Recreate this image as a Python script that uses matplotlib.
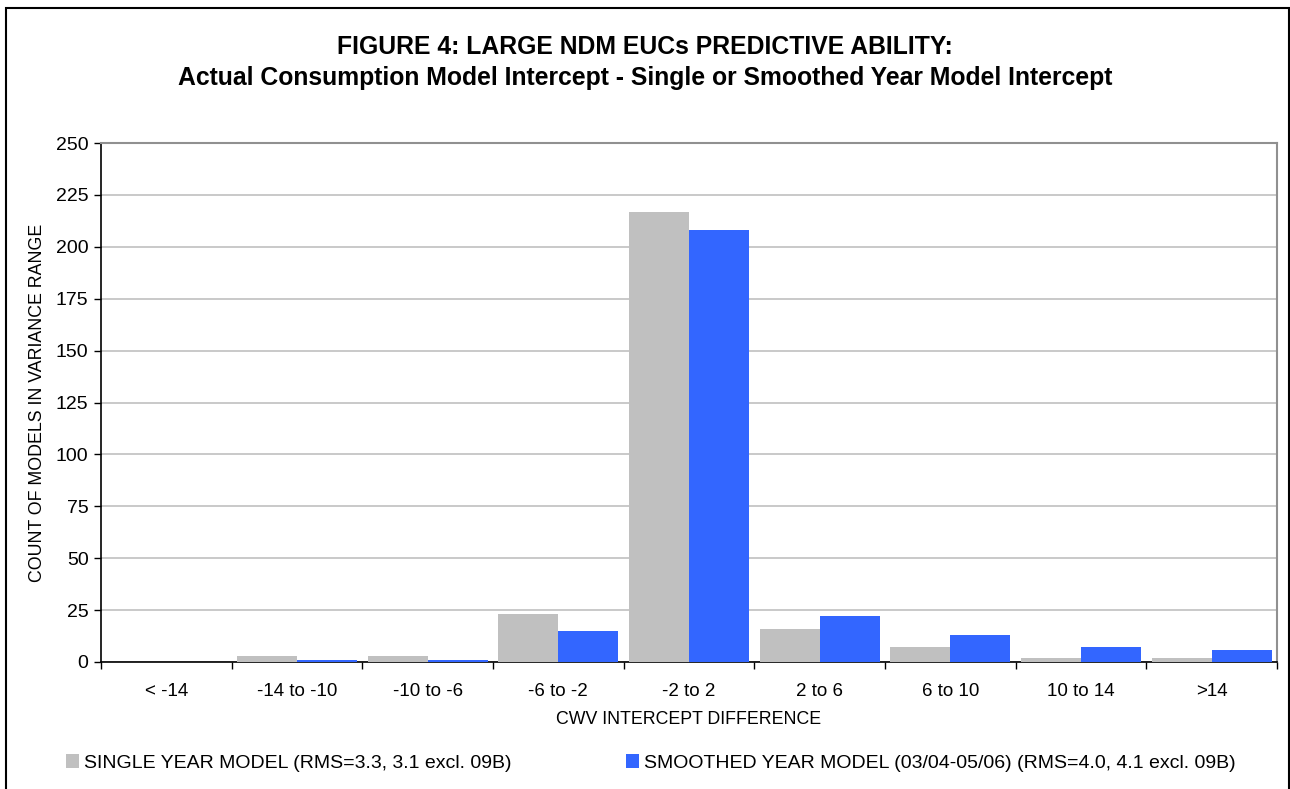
import matplotlib
matplotlib.use("Agg")
import matplotlib.pyplot as plt
from matplotlib.patches import Rectangle, Patch
import numpy as np

plt.rcParams['font.family'] = ['Liberation Sans', 'DejaVu Sans']

categories = ["< -14", "-14 to -10", "-10 to -6", "-6 to -2", "-2 to 2",
              "2 to 6", "6 to 10", "10 to 14", ">14"]
single_year = [0, 3, 3, 23, 217, 16, 7, 2, 2]
smoothed_year = [0, 1, 1, 15, 208, 22, 13, 7, 6]
series_labels = ["SINGLE YEAR MODEL (RMS=3.3, 3.1 excl. 09B)",
                 "SMOOTHED YEAR MODEL (03/04-05/06) (RMS=4.0, 4.1 excl. 09B)"]
y_ticks = [0, 25, 50, 75, 100, 125, 150, 175, 200, 225, 250]

W, H = 1290, 789
fig = plt.figure(figsize=(W / 100, H / 100), dpi=100)

# outer chart frame
fig.patches.append(Rectangle((6 / W, -0.05), (1289 - 6) / W, 1.05 - 8 / H,
                             transform=fig.transFigure, fill=False,
                             edgecolor='black', linewidth=1.5))

ax = fig.add_axes([101 / W, 1 - 662 / H, (1277 - 101) / W, (662 - 143) / H])

x = np.arange(len(categories))
bw = 0.46
ax.bar(x, single_year, width=-bw, align='edge', color='#C0C0C0', zorder=3)
ax.bar(x, smoothed_year, width=bw, align='edge', color='#3366FF', zorder=3)

ax.set_xlim(-0.5, len(categories) - 0.5)
ax.set_ylim(0, 250)
ax.set_yticks(y_ticks)
ax.yaxis.grid(True, color='#C0C0C0', linewidth=1.2, zorder=0)
ax.set_axisbelow(True)

ax.set_xticks(x)
ax.set_xticklabels(categories)
ax.set_xticks(np.arange(-0.5, len(categories)), minor=True)
ax.tick_params(axis='x', which='major', length=0, pad=15, labelsize=13.5)
ax.tick_params(axis='x', which='minor', length=5, width=1, color='black')
ax.tick_params(axis='y', length=5, width=1, labelsize=14, pad=4)

for side in ('left', 'bottom'):
    ax.spines[side].set_color('black')
    ax.spines[side].set_linewidth(1.2)
for side in ('top', 'right'):
    ax.spines[side].set_color('#909090')
    ax.spines[side].set_linewidth(1.5)

ax.set_xlabel("CWV INTERCEPT DIFFERENCE", fontsize=12.8)
ax.set_ylabel("COUNT OF MODELS IN VARIANCE RANGE", fontsize=12.8)
ax.xaxis.set_label_coords(0.5, -(720 - 662) / (662 - 143), transform=ax.transAxes)
ax.xaxis.label.set_va('center')
ax.yaxis.set_label_coords(-(101 - 37) / (1277 - 101), 0.5, transform=ax.transAxes)
ax.yaxis.label.set_va('center')

fig.text(0.5, 1 - 47 / H, "FIGURE 4: LARGE NDM EUCs PREDICTIVE ABILITY:",
         ha='center', va='center', fontsize=17.8, fontweight='bold')
fig.text(0.5, 1 - 78 / H,
         "Actual Consumption Model Intercept - Single or Smoothed Year Model Intercept",
         ha='center', va='center', fontsize=17.8, fontweight='bold')

handles = [Patch(facecolor='#C0C0C0', edgecolor='none'),
           Patch(facecolor='#3366FF', edgecolor='none')]
fig.legend(handles, series_labels, loc='center left',
           bbox_to_anchor=(66 / W, 1 - 763 / H), ncol=2, frameon=False,
           fontsize=14, handlelength=0.67, handleheight=0.67,
           handletextpad=0.25, columnspacing=5.9, borderpad=0, borderaxespad=0)

fig.savefig("out.png", dpi=100)
